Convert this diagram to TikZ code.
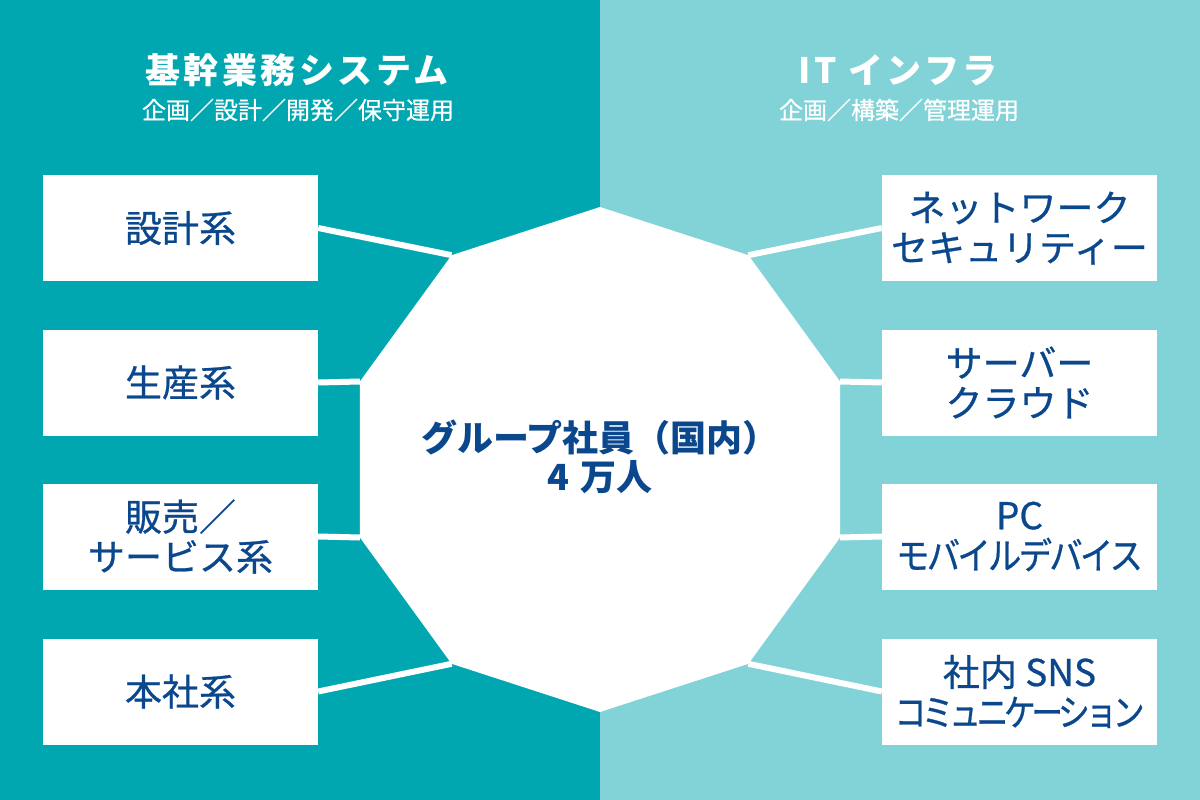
\documentclass[tikz,border=0pt]{standalone}
\usepackage{graphicx}
\usepackage{fontspec}
\setmainfont{Noto Sans CJK JP}
\newfontfamily\jpmed{Noto Sans CJK JP}[FakeBold=0.7]
\definecolor{leftbg}{HTML}{00A7B0}
\definecolor{rightbg}{HTML}{81D3D7}
\definecolor{navy}{HTML}{0B478D}
\begin{document}
\begin{tikzpicture}[x=1pt,y=-1pt,
  panel/.style={fill=#1,draw=none},
  box/.style={fill=white,draw=none,minimum width=275pt,minimum height=106pt,inner sep=0pt,
    align=center,text=navy,font=\jpmed\fontsize{37}{40}\selectfont},
  conn/.style={draw=white,line width=6pt},
  ttl/.style={text=white,inner sep=0pt,font=\fontsize{35}{40}\selectfont\bfseries\addfontfeature{LetterSpace=10}},
  sub/.style={text=white,inner sep=0pt,font=\jpmed\fontsize{24}{26}\selectfont},
  ctr/.style={text=navy,align=center,inner sep=0pt,font=\fontsize{36}{39}\selectfont\bfseries}]
\useasboundingbox (0,0) rectangle (1200,800);
\fill[panel=leftbg] (0,0) rectangle (600,800);
\fill[panel=rightbg] (600,0) rectangle (1200,800);
% decagon vertices
\coordinate (d90) at (600,207);
\coordinate (d54) at (748.4,255.2);
\coordinate (d18) at (840.1,381.5);
\coordinate (dm18) at (840.1,537.5);
\coordinate (dm54) at (748.4,663.8);
\coordinate (dm90) at (600,712);
\coordinate (d234) at (451.6,663.8);
\coordinate (d198) at (359.9,537.5);
\coordinate (d162) at (359.9,381.5);
\coordinate (d126) at (451.6,255.2);
\fill[white] (d90) -- (d54) -- (d18) -- (dm18) -- (dm54) -- (dm90) -- (d234) -- (d198) -- (d162) -- (d126) -- cycle;
% titles
\node[ttl] (lt) at (297,70) {基幹業務システム};
\node[sub] (ls) at (298,110) {企画／設計／開発／保守運用};
\node[ttl] (rt) at (898,70) {IT インフラ};
\node[sub] (rs) at (899,110) {企画／構築／管理運用};
% boxes
\node[box] (L1) at (180.5,228) {設計系};
\node[box] (L2) at (180.5,382.5) {生産系};
\node[box] (L3) at (180.5,536.5) {販売／\\サービス系};
\node[box] (L4) at (180.5,691.5) {本社系};
\node[box] (R1) at (1019.5,228) {ネットワーク\\セキュリティー};
\node[box] (R2) at (1019.5,382.5) {サーバー\\クラウド};
\node[box] (R3) at (1019.5,536.5) {PC\\\scalebox{0.9}[1]{\addfontfeature{LetterSpace=-8}モバイルデバイス}};
\node[box] (R4) at (1019.5,691.5) {社内 SNS\\\scalebox{0.86}[1]{\addfontfeature{LetterSpace=-14}コミュニケーション}};
% connectors
\draw[conn] (L1.east) -- (d126);
\draw[conn] (L2.east) -- (d162);
\draw[conn] (L3.east) -- (d198);
\draw[conn] (L4.east) -- (d234);
\draw[conn] (R1.west) -- (d54);
\draw[conn] (R2.west) -- (d18);
\draw[conn] (R3.west) -- (dm18);
\draw[conn] (R4.west) -- (dm54);
% centre
\node[ctr] (c) at (600,457) {グループ社員（国内）\\4\,\,万人};
\end{tikzpicture}
\end{document}
